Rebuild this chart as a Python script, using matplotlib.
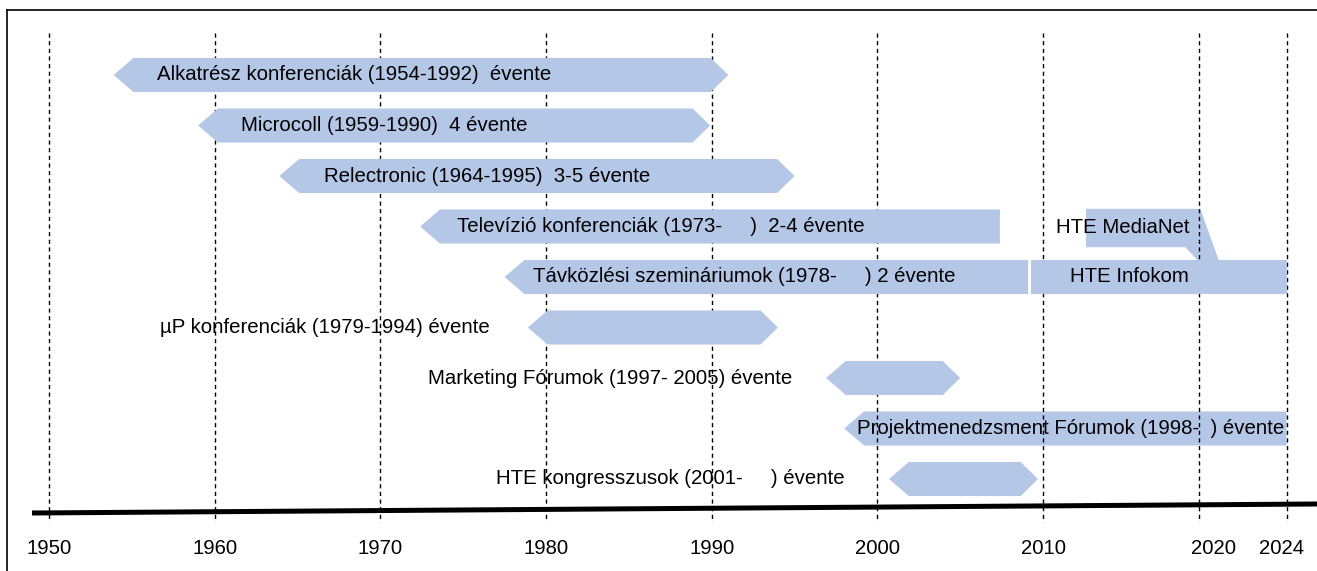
import matplotlib
matplotlib.use("Agg")
import matplotlib.pyplot as plt
from matplotlib.patches import Polygon
from matplotlib.lines import Line2D

# ------------------------
# data (years)
# ------------------------
labels = [
    "Alkatrész konferenciák (1954-1992)  évente",
    "Microcoll (1959-1990)  4 évente",
    "Relectronic (1964-1995)  3-5 évente",
    "Televízió konferenciák (1973-     )  2-4 évente",
    "Távközlési szemináriumok (1978-     ) 2 évente",
    "µP konferenciák (1979-1994) évente",
    "Marketing Fórumok (1997- 2005) évente",
    "Projektmenedzsment Fórumok (1998-  ) évente",
    "HTE kongresszusok (2001-     ) évente",
]
bar_start = [1953.9, 1959.0, 1963.9, 1972.4, 1977.5, 1978.9, 1996.9, 1998.0, 2000.7]
bar_end = [1991.0, 1989.9, 1995.0, 2007.4, 2009.1, 1994.0, 2005.0, 2024.7, 2009.7]
right_pointed = [True, True, True, False, False, True, True, False, True]
label_x = [1956.5, 1961.6, 1966.6, 1974.6, 1979.2, 1956.7, 1972.9, 1998.8, 1977.0]

infokom_start, infokom_end = 2009.3, 2024.7
medianet_x = [2012.6, 2019.5, 2020.6, 2019.3, 2018.6, 2012.6]

grid_years = [1950, 1960, 1970, 1980, 1990, 2000, 2010, 2019.4, 2024.7]
tick_labels = ["1950", "1960", "1970", "1980", "1990", "2000", "2010", "2020", "2024"]
tick_label_x = [1950, 1960, 1970, 1980, 1990, 2000, 2010, 2020.3, 2024.4]

# ------------------------
# layout
# ------------------------
W, H = 1317, 571
PX = 1 / 16.567          # years per pixel
ROW0, ROWH = 75, 50.5     # pixel y of first row, row spacing
X0 = 1950 - 49 * PX
X1 = X0 + W * PX
Y0 = -ROW0 / ROWH
Y1 = (H - ROW0) / ROWH
HALF = 0.337
TIP_L, TIP_R = 1.2, 1.05
FILL = "#b4c7e7"
FONT = ["Liberation Sans", "DejaVu Sans"]
FS = 14.7
FS_TICK = 14.6

plt.rcParams["font.family"] = FONT

fig = plt.figure(figsize=(W / 100, H / 100), dpi=100)
ax = fig.add_axes([0, 0, 1, 1])
ax.set_xlim(X0, X1)
ax.set_ylim(Y1, Y0)
ax.axis("off")


def arrow_shape(x0, x1, y, right_tip):
    pts = [(x0, y), (x0 + TIP_L, y - HALF)]
    if right_tip:
        pts += [(x1 - TIP_R, y - HALF), (x1, y), (x1 - TIP_R, y + HALF)]
    else:
        pts += [(x1, y - HALF), (x1, y + HALF)]
    pts += [(x0 + TIP_L, y + HALF)]
    return pts


# dashed year lines
for gx in grid_years:
    ax.plot([gx, gx], [(33 - ROW0) / ROWH, (522 - ROW0) / ROWH],
            color="black", lw=1.0, ls=(0, (3, 2.5)), zorder=2)

# bars
for i, (s, e, rp) in enumerate(zip(bar_start, bar_end, right_pointed)):
    z = 1 if i == 7 else 3
    ax.add_patch(Polygon(arrow_shape(s, e, i, rp), closed=True,
                         facecolor=FILL, edgecolor="none", zorder=z))

# HTE Infokom + MediaNet
ax.add_patch(Polygon([(infokom_start, 4 - HALF), (infokom_end, 4 - HALF),
                      (infokom_end, 4 + HALF), (infokom_start, 4 + HALF)],
                     closed=True, facecolor=FILL, edgecolor="none", zorder=3))
med_y = [2.65, 2.65, 4 - HALF, 4 - HALF, 3.41, 3.41]
ax.add_patch(Polygon(list(zip(medianet_x, med_y)), closed=True,
                     facecolor=FILL, edgecolor="none", zorder=1))

# labels
for i, (t, lx) in enumerate(zip(labels, label_x)):
    ax.text(lx, i, t, ha="left", va="center", fontsize=FS, zorder=4)
ax.text(2011.6, 4, "HTE Infokom", ha="left", va="center", fontsize=FS, zorder=4)
ax.text(2010.8, 3.02, "HTE MediaNet", ha="left", va="center", fontsize=FS, zorder=4)

# time axis
ax.plot([X0 + 32 * PX, X1], [(513 - ROW0) / ROWH, (504 - ROW0) / ROWH],
        color="black", lw=3.6, solid_capstyle="butt", zorder=5)
for tx, tl in zip(tick_label_x, tick_labels):
    ax.text(tx, (549 - ROW0) / ROWH, tl, ha="center", va="center", fontsize=FS_TICK)

# thin frame
fig.add_artist(Line2D([7 / W, 1], [1 - 10 / H, 1 - 10 / H], color="black", lw=1.2))
fig.add_artist(Line2D([7 / W, 7 / W], [0, 1 - 10 / H], color="black", lw=1.2))

fig.savefig("out.png", dpi=100)
